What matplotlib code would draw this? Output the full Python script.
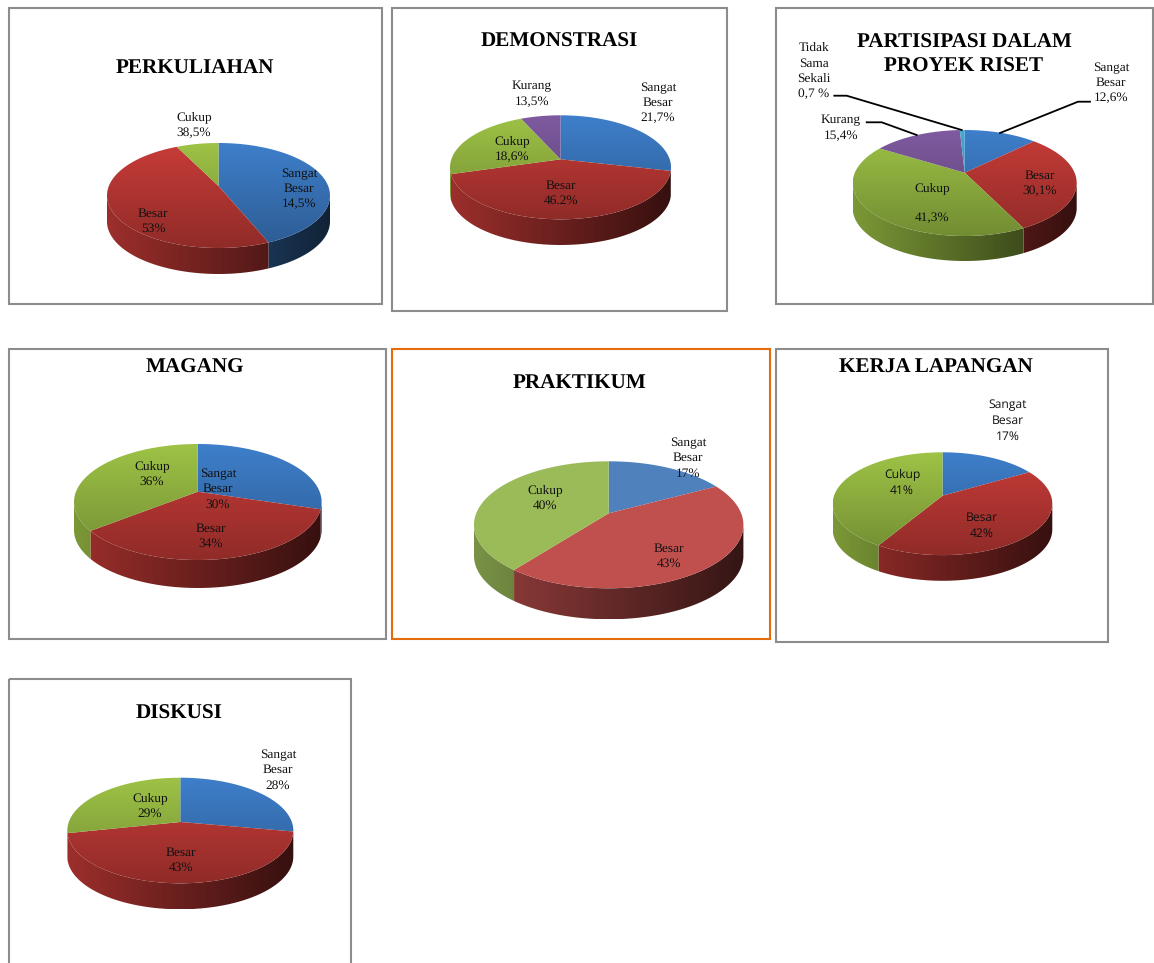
import matplotlib
matplotlib.use('Agg')
import matplotlib.pyplot as plt
import numpy as np
from matplotlib.patches import Polygon, Rectangle

plt.rcParams['text.hinting'] = 'no_hinting'

W, H = 1154, 963
SERIF = 'Liberation Serif'
SANS = 'Open Sans'

# slice sizes (they do not follow the printed labels)
perkuliahan_vals = [42.6, 51.3, 6.1]
demonstrasi_vals = [26.1, 46.8, 21.3, 5.8]
partisipasi_vals = [10.6, 30.6, 45.1, 13.0, 0.7]
magang_vals = [27.0, 39.7, 33.3]
praktikum_vals = [14.7, 47.7, 37.6]
kerja_vals = [14.5, 45.4, 40.1]
diskusi_vals = [25.3, 48.9, 25.8]

glossy = ['#3E7FCB', '#C83C38', '#9EC346', '#7F5AA0', '#46AAD2']
flat = ['#4F81BD', '#C0504D', '#9BBB59']

# values, colours, shaded top, cx, cy, rx, ry, depth, apex y (pixels)
pies = [
    (perkuliahan_vals, glossy, True, 218.5, 195.5, 111.5, 52.5, 26, 186),
    (demonstrasi_vals, glossy, True, 560.5, 167.3, 110.5, 52, 25.7, 159.3),
    (partisipasi_vals, glossy, True, 964.7, 183, 112, 53, 25, 172.7),
    (magang_vals, glossy, True, 197.8, 502, 123.8, 58, 28, 491.7),
    (praktikum_vals, flat, False, 608.7, 524.8, 134.7, 63.5, 31, 513.3),
    (kerja_vals, glossy, True, 942.5, 503.7, 109.8, 51.4, 25.7, 495.7),
    (diskusi_vals, glossy, True, 180.3, 830.5, 113, 52.8, 26, 822),
]

# frames: left, top, right, bottom, colour
frames = [
    (8.5, 8.5, 381.5, 304.5, '#8C8C8C'),
    (391.7, 8.5, 726.7, 311.5, '#8C8C8C'),
    (775.5, 8.5, 1153, 304.5, '#8C8C8C'),
    (8.5, 349, 386, 639, '#8C8C8C'),
    (391.7, 349, 769.5, 639, '#E46C0A'),
    (775.7, 349, 1108.3, 641.7, '#8C8C8C'),
    (8.5, 679, 350.5, 975, '#8C8C8C'),
]

titles = [
    ('PERKULIAHAN', 195, 69),
    ('DEMONSTRASI', 559, 42),
    ('PARTISIPASI DALAM\nPROYEK RISET', 964, 54.5),
    ('MAGANG', 195, 368),
    ('PRAKTIKUM', 580, 384),
    ('KERJA LAPANGAN', 936, 368),
    ('DISKUSI', 179, 714),
]

labels = [
    ('Cukup\n38,5%', 194, 124, SERIF),
    ('Sangat\nBesar\n14,5%', 299, 188, SERIF),
    ('Besar\n53%', 153, 220, SERIF),
    ('Kurang\n13,5%', 532, 93, SERIF),
    ('Sangat\nBesar\n21,7%', 658, 102, SERIF),
    ('Cukup\n18,6%', 512, 148, SERIF),
    ('Besar\n46.2%', 561, 192, SERIF),
    ('Tidak\nSama\nSekali\n0,7 %', 814, 70, SERIF),
    ('Sangat\nBesar\n12,6%', 1111, 82, SERIF),
    ('Kurang\n15,4%', 841, 127, SERIF),
    ('Besar\n30,1%', 1040, 182, SERIF),
    ('Cukup\n\n41,3%', 932, 202, SERIF),
    ('Sangat\nBesar\n30%', 218, 488, SERIF),
    ('Cukup\n36%', 152, 473, SERIF),
    ('Besar\n34%', 211, 535, SERIF),
    ('Sangat\nBesar\n17%', 688, 457, SERIF),
    ('Cukup\n40%', 545, 497, SERIF),
    ('Besar\n43%', 669, 555, SERIF),
    ('Sangat\nBesar\n17%', 1008, 420, SANS),
    ('Cukup\n41%', 902, 482, SANS),
    ('Besar\n42%', 982, 525, SANS),
    ('Sangat\nBesar\n28%', 278, 769, SERIF),
    ('Cukup\n29%', 150, 805, SERIF),
    ('Besar\n43%', 181, 859, SERIF),
]

leaders = [
    ([834.3, 846.7, 961.7], [95.7, 95.7, 130]),
    ([866.7, 881.7, 916.7], [122.3, 122.3, 135]),
    ([1090, 1078, 1000], [101.7, 101.7, 133]),
]


def arc(t1, t2):
    t = np.radians(np.linspace(t1, t2, 120))
    return np.cos(t), np.sin(t)


def shaded(ax, rgb, image_factor, extent, outline, z):
    # paint a gradient and cut it down to the slice outline
    img = np.clip(rgb[None, None, :] * image_factor[..., None], 0, 1)
    im = ax.imshow(img, extent=extent, aspect='auto', origin='upper',
                   interpolation='bilinear', zorder=z)
    poly = Polygon(outline, closed=True, transform=ax.transData)
    im.set_clip_path(poly)


def draw_pie(fig, vals, colors, gloss, cx, cy, rx, ry, depth, apex_y):
    pad = 2
    d = depth / ry
    ax = fig.add_axes([(cx - rx - pad) / W, 1 - (cy + ry + depth + pad) / H,
                       (2 * rx + 2 * pad) / W, (2 * ry + depth + 2 * pad) / H])
    wedges, _ = ax.pie(vals, colors=colors, startangle=90, counterclock=False, radius=1)
    apex = (cy - apex_y) / ry
    extent = (-1, 1, -1 - d, 1)
    for w, c in zip(wedges, colors):
        w.set_visible(False)
        rgb = np.array(matplotlib.colors.to_rgb(c))
        # side wall, only the front half of the rim shows
        for k in (-360, 0, 360):
            a, b = max(w.theta1, 180 + k), min(w.theta2, 360 + k)
            if a >= b:
                continue
            x, y = arc(a, b)
            outline = np.r_[np.c_[x, y], np.c_[x[::-1], y[::-1] - d]]
            side = np.linspace(0.78, 0.27, 256)[None, :]
            shaded(ax, rgb, side, extent, outline, 1)
        # top face
        x, y = arc(w.theta1, w.theta2)
        outline = np.r_[[[0, apex]], np.c_[x, y]]
        if gloss:
            top = np.linspace(1.0, 0.72, 256)[:, None]
        else:
            top = np.ones((2, 2))
        shaded(ax, rgb, top, (-1, 1, -1, 1), outline, 2)
    ax.set_aspect('auto')
    ax.set_xlim(-1 - pad / rx, 1 + pad / rx)
    ax.set_ylim(-1 - d - pad / ry, 1 + pad / ry)
    ax.axis('off')


fig = plt.figure(figsize=(W / 100, H / 100), dpi=100, facecolor='white')

for p in pies:
    draw_pie(fig, *p)

# overlay in pixel coordinates for frames, titles and labels
over = fig.add_axes([0, 0, 1, 1], zorder=5)
over.set_xlim(0, W)
over.set_ylim(H, 0)
over.axis('off')

for left, top, right, bottom, col in frames:
    over.add_patch(Rectangle((left, top), right - left, bottom - top, fill=False,
                             edgecolor=col, linewidth=1.5))

for xs, ys in leaders:
    over.plot(xs, ys, color='black', linewidth=1.3)

for txt, x, y in titles:
    over.text(x, y, txt, family=SERIF, weight='bold', fontsize=15.2, ha='center',
              va='center', linespacing=1.32, color='black')

for txt, x, y, fam in labels:
    size = 8.7 if fam == SANS else 9.6
    spacing = 1.45 if fam == SANS else 1.38
    over.text(x, y + 1, txt, family=fam, fontsize=size, ha='center', va='center',
              linespacing=spacing, color='#111111')

fig.savefig('out.png', dpi=100)
